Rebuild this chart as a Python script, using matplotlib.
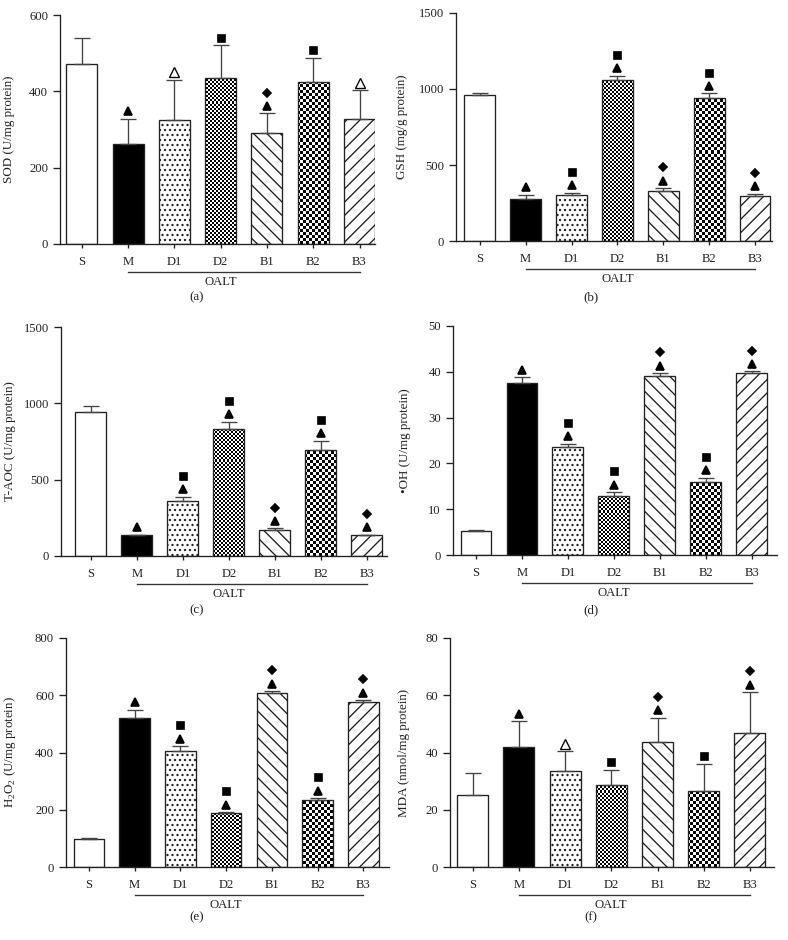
import numpy as np
import matplotlib
matplotlib.use('Agg')
import matplotlib.pyplot as plt
from matplotlib.transforms import offset_copy, blended_transform_factory

plt.rcParams['font.family'] = ['Liberation Serif', 'DejaVu Serif']
plt.rcParams['mathtext.fontset'] = 'custom'
plt.rcParams['mathtext.rm'] = 'Liberation Serif'
plt.rcParams['hatch.linewidth'] = 0.8

groups = ['S', 'M', 'D1', 'D2', 'B1', 'B2', 'B3']

# significance marks per bar: t = filled triangle, o = open triangle,
# s = square, d = diamond (stacked bottom to top)
sod_mean = [471, 262, 324, 436, 290, 425, 327]
sod_err = [70, 66, 106, 85, 52, 63, 76]
sod_marks = ['', 't', 'o', 's', 'td', 's', 'o']

gsh_mean = [962, 275, 300, 1058, 326, 942, 293]
gsh_err = [11, 29, 19, 29, 22, 29, 17]
gsh_marks = ['', 't', 'ts', 'ts', 'td', 'ts', 'td']

taoc_mean = [943, 135, 362, 834, 168, 694, 135]
taoc_err = [42, 5, 25, 46, 13, 61, 5]
taoc_marks = ['', 't', 'ts', 'ts', 'td', 'ts', 'td']

oh_mean = [5.3, 37.6, 23.5, 12.95, 39.1, 15.9, 39.7]
oh_err = [0.2, 1.2, 0.8, 0.8, 0.6, 1.0, 0.4]
oh_marks = ['', 't', 'ts', 'ts', 'td', 'ts', 'td']

h2o2_mean = [98, 520, 405, 187, 607, 233, 577]
h2o2_err = [2.5, 29, 17, 4, 7, 7, 6]
h2o2_marks = ['', 't', 'ts', 'ts', 'td', 'ts', 'td']

mda_mean = [25.1, 41.8, 33.7, 28.8, 43.8, 26.7, 46.8]
mda_err = [7.6, 9.2, 6.7, 5.2, 8.4, 9.3, 14.3]
mda_marks = ['', 't', 'o', 's', 'td', 's', 'td']

W, H, DPI = 788, 940, 120
fig = plt.figure(figsize=(W / DPI, H / DPI), dpi=DPI)

# (mean, err, marks, ylabel, yticks, caption, box px (l, t, r, b), xlim, ylabel offset px)
panels = [
    (sod_mean, sod_err, sod_marks, 'SOD (U/mg protein)', [0, 200, 400, 600], '(a)',
     (60, 15, 375, 244), (-0.475, 6.335), 45),
    (gsh_mean, gsh_err, gsh_marks, 'GSH (mg/g protein)', [0, 500, 1000, 1500], '(b)',
     (456, 13, 772, 241), (-0.52, 6.37), 48),
    (taoc_mean, taoc_err, taoc_marks, 'T-AOC (U/mg protein)', [0, 500, 1000, 1500], '(c)',
     (61, 327, 387, 556), (-0.65, 6.44), 45),
    (oh_mean, oh_err, oh_marks, '\u2022OH (U/mg protein)', [0, 10, 20, 30, 40, 50], '(d)',
     (453, 326, 777, 555), (-0.5, 6.55), 42),
    (h2o2_mean, h2o2_err, h2o2_marks, 'H$_2$O$_2$ (U/mg protein)', [0, 200, 400, 600, 800], '(e)',
     (66, 638, 389, 867), (-0.5, 6.56), 48),
    (mda_mean, mda_err, mda_marks, 'MDA (nmol/mg protein)', [0, 20, 40, 60, 80], '(f)',
     (450, 638, 774, 867), (-0.49, 6.52), 40),
]
caption_y = {'(a)': 297, '(b)': 297, '(c)': 610, '(d)': 610, '(e)': 917, '(f)': 917}

ink = '#222222'
fills = ['white', 'black', 'white', 'none', 'white', 'none', 'white']
hatches = [None, None, '....', None, '\\\\\\', None, '///']
checker_size = {3: 2, 5: 3}

mark_style = {
    't': dict(marker='^', ms=4.8, mfc='black', mec='black'),
    'o': dict(marker='^', ms=6, mfc='white', mec='black', mew=0.8),
    's': dict(marker='s', ms=4.2, mfc='black', mec='black'),
    'd': dict(marker='D', ms=3.2, mfc='black', mec='black'),
}
mark_offset = [4.5, 12.5]


def add_checker(ax, bar, sq):
    # black/white squares of sq pixels, clipped to the bar outline
    aw, ah = ax.bbox.width, ax.bbox.height
    nx, ny = int(aw // sq) + 2, int(ah // sq) + 2
    arr = np.add.outer(np.arange(ny), np.arange(nx)) % 2
    x0, x1 = ax.get_xlim()
    y0, y1 = ax.get_ylim()
    ext = (x0, x0 + nx * sq * (x1 - x0) / aw, y0, y0 + ny * sq * (y1 - y0) / ah)
    im = ax.imshow(arr, cmap='gray', extent=ext, origin='lower',
                   interpolation='nearest', aspect='auto', zorder=1.5)
    im.set_clip_path(bar)
    ax.set_xlim(x0, x1)
    ax.set_ylim(y0, y1)


x = np.arange(len(groups))
for mean, err, marks, ylabel, yticks, cap, box, xlim, lab_off in panels:
    l, t, r, b = box
    ax = fig.add_axes([l / W, 1 - b / H, (r - l) / W, (b - t) / H])
    ax.set_xlim(*xlim)
    ax.set_ylim(0, yticks[-1])

    bars = ax.bar(x, mean, width=0.67, color=fills, edgecolor=ink, linewidth=0.8, zorder=2)
    for i, bar in enumerate(bars):
        if hatches[i]:
            bar.set_hatch(hatches[i])
        if i in checker_size:
            add_checker(ax, bar, checker_size[i])

    ax.errorbar(x, mean, yerr=[np.zeros(len(x)), err], fmt='none', ecolor='#444444',
                elinewidth=0.8, capsize=4.8, capthick=0.8, zorder=3)

    for i, code in enumerate(marks):
        top = mean[i] + err[i]
        for k, c in enumerate(code):
            tr = offset_copy(ax.transData, fig=fig, y=mark_offset[k], units='points')
            ax.plot(x[i], top, transform=tr, linestyle='none', clip_on=False,
                    zorder=4, **mark_style[c])

    for s in ['top', 'right']:
        ax.spines[s].set_visible(False)
    for s in ['left', 'bottom']:
        ax.spines[s].set_linewidth(0.8)
        ax.spines[s].set_color(ink)

    ax.set_xticks(x)
    ax.set_xticklabels(groups)
    ax.set_yticks(yticks)
    ax.tick_params(axis='y', length=4.2, width=0.8, pad=3, labelsize=7.6, colors=ink)
    ax.tick_params(axis='x', length=2.4, width=0.8, pad=5.0, labelsize=7.6, colors=ink)
    ax.set_ylabel(ylabel, fontsize=7.8, color=ink)
    ax.yaxis.set_label_coords(-lab_off / (r - l), 0.5)

    hgt = b - t
    trans = blended_transform_factory(ax.transData, ax.transAxes)
    ax.plot([x[1], x[-1]], [-28 / hgt, -28 / hgt], transform=trans, color='#333333',
            lw=0.8, clip_on=False)
    ax.text(x[3], -38 / hgt, 'OALT', transform=trans, ha='center', va='center',
            fontsize=7.6, color=ink)

    fig.text(0.25 if l < W / 2 else 0.75, 1 - caption_y[cap] / H, cap,
             ha='center', va='center', fontsize=7.8, color=ink)

fig.savefig('out.png', dpi=DPI)
